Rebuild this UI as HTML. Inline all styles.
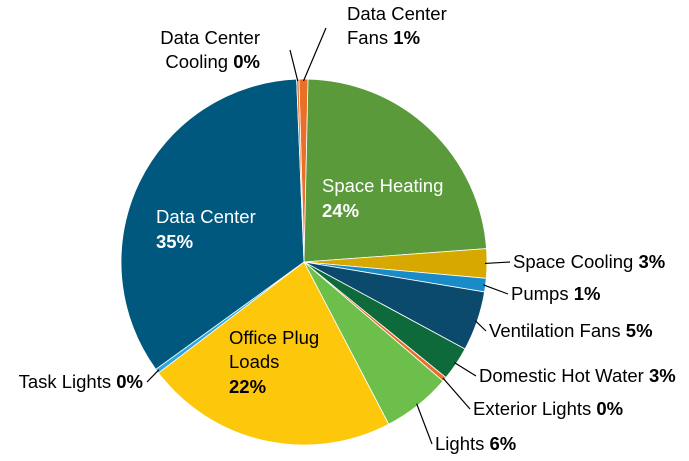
<!DOCTYPE html>
<html><head><meta charset="utf-8"><style>
html,body{margin:0;padding:0;background:#fff}
svg{display:block;font-family:"Liberation Sans",sans-serif}
</style></head><body>
<svg id="chart" width="689" height="461" viewBox="0 0 689 461"></svg>
<script>
const categories=["Data Center Fans","Space Heating","Space Cooling","Pumps","Ventilation Fans","Domestic Hot Water","Exterior Lights","Lights","Office Plug Loads","Task Lights","Data Center","Data Center Cooling"];
const values=[0.8,23.6,2.6,1.2,5.3,3.0,0.4,6.1,22.4,0.4,34.5,0.2];
const labels=["1%","24%","3%","1%","5%","3%","0%","6%","22%","0%","35%","0%"];
const colors=["#e8702a","#5a9a3a","#d6a800","#1a8bc9","#0b4a6c","#0e6a3a","#e8702a","#6cbf4a","#fdc70c","#2aa7e0","#00587f","#e8702a"];
const NS="http://www.w3.org/2000/svg";
const svg=document.getElementById("chart");
const cx=304,cy=262,r=183,start=-1.6;
const total=values.reduce((a,b)=>a+b,0);
function pt(deg,rad){const a=(deg-90)*Math.PI/180;return [cx+rad*Math.cos(a),cy+rad*Math.sin(a)];}
let ang=start;const mids=[];
values.forEach((v,i)=>{
 const sweep=v/total*360;const a0=ang,a1=ang+sweep;ang=a1;mids.push((a0+a1)/2);
 const p0=pt(a0,r),p1=pt(a1,r);
 const path=document.createElementNS(NS,"path");
 path.setAttribute("d",`M${cx},${cy} L${p0[0]},${p0[1]} A${r},${r} 0 ${sweep>180?1:0} 1 ${p1[0]},${p1[1]} Z`);
 path.setAttribute("fill",colors[i]);path.setAttribute("stroke","#fff");path.setAttribute("stroke-width","0.8");
 
 
 svg.appendChild(path);
});
function text(x,y,anchor,parts,fill,name){
 const t=document.createElementNS(NS,"text");
 t.setAttribute("x",x);t.setAttribute("y",y);t.setAttribute("text-anchor",anchor);t.setAttribute("font-size","18.5");t.setAttribute("fill",fill);
 
 
 parts.forEach(p=>{const s=document.createElementNS(NS,"tspan");s.textContent=p[0];if(p[1])s.setAttribute("font-weight","bold");t.appendChild(s);});
 svg.appendChild(t);
}
function leader(i,x,y){
 const p=pt(mids[i],r-2);
 const l=document.createElementNS(NS,"line");
 l.setAttribute("x1",p[0]);l.setAttribute("y1",p[1]);l.setAttribute("x2",x);l.setAttribute("y2",y);
 l.setAttribute("stroke","#000");l.setAttribute("stroke-width","1.2");
 
 
 svg.appendChild(l);
}
leader(0,326,28);
text(347,20,"start",[["Data Center"]],"#000","label-dc-fans-1");
text(347,44,"start",[["Fans "],[labels[0],1]],"#000","label-dc-fans-2");
leader(11,290,50);
text(260,44,"end",[["Data Center"]],"#000","label-dc-cooling-1");
text(260,68,"end",[["Cooling "],[labels[11],1]],"#000","label-dc-cooling-2");
text(322,192,"start",[["Space Heating"]],"#fff","label-space-heating-1");
text(322,217,"start",[[labels[1],1]],"#fff","label-space-heating-2");
leader(2,510,262);
text(513,268,"start",[["Space Cooling "],[labels[2],1]],"#000","label-space-cooling");
leader(3,508,294);
text(511,300,"start",[["Pumps "],[labels[3],1]],"#000","label-pumps");
leader(4,486,331);
text(489,337,"start",[["Ventilation Fans "],[labels[4],1]],"#000","label-ventilation");
leader(5,476,376);
text(479,382,"start",[["Domestic Hot Water "],[labels[5],1]],"#000","label-dhw");
leader(6,470,409);
text(473,415,"start",[["Exterior Lights "],[labels[6],1]],"#000","label-exterior-lights");
leader(7,432,444);
text(435,450,"start",[["Lights "],[labels[7],1]],"#000","label-lights");
text(229,344,"start",[["Office Plug"]],"#000","label-office-1");
text(229,368,"start",[["Loads"]],"#000","label-office-2");
text(229,393,"start",[[labels[8],1]],"#000","label-office-3");
leader(9,147,382);
text(143,388,"end",[["Task Lights "],[labels[9],1]],"#000","label-task-lights");
text(156,223,"start",[["Data Center"]],"#fff","label-data-center-1");
text(156,248,"start",[[labels[10],1]],"#fff","label-data-center-2");
</script>
</body></html>
